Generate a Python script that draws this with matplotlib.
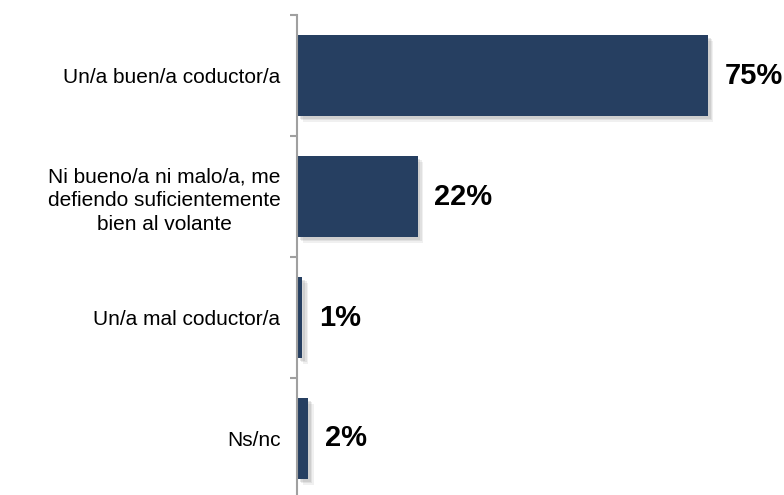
import matplotlib.pyplot as plt
import matplotlib.patheffects as pe

# Categories and percentages.
categories = ['Un/a buen/a coductor/a',
              'Ni bueno/a ni malo/a, me\ndefiendo suficientemente\nbien al volante',
              'Un/a mal coductor/a',
              'Ns/nc']
values = [75, 22, 1, 2]
value_labels = ['75%', '22%', '1%', '2%']

plt.rcParams['font.family'] = ['Liberation Sans', 'DejaVu Sans']

fig = plt.figure(figsize=(7.84, 4.95), dpi=100)
ax = fig.add_axes([297 / 784, -4 / 495, 487 / 784, 484 / 495])

positions = list(range(len(categories)))
bars = ax.barh(positions, values, height=0.67, color='#263F61')

# Soft shadow behind each bar (a few faint layers).
for bar in bars:
    bar.set_path_effects([
        pe.SimplePatchShadow(offset=(4, -4), shadow_rgbFace='#888888', alpha=0.12),
        pe.SimplePatchShadow(offset=(3, -3), shadow_rgbFace='#888888', alpha=0.15),
        pe.SimplePatchShadow(offset=(2, -2), shadow_rgbFace='#888888', alpha=0.2),
        pe.Normal()])

# Value labels at the end of each bar.
for pos, val, lab in zip(positions, values, value_labels):
    ax.annotate(lab, (val, pos), xytext=(12, 0), textcoords='offset points',
                ha='left', va='center', fontsize=21, fontweight='bold', color='black')

ax.set_xlim(0, 88.9)
ax.set_ylim(3.5, -0.5)

# Category labels, no tick marks at centers.
ax.set_yticks(positions)
ax.set_yticklabels(categories, fontsize=15, multialignment='center', linespacing=1.3)
ax.tick_params(axis='y', which='major', length=0, pad=12)

# Small tick marks at category boundaries.
ax.set_yticks([-0.5, 0.5, 1.5, 2.5, 3.5], minor=True)
ax.tick_params(axis='y', which='minor', length=5, width=1.5, color='#A0A0A0', direction='out')

ax.set_xticks([])
for side in ['top', 'right', 'bottom']:
    ax.spines[side].set_visible(False)
ax.spines['left'].set_color('#A0A0A0')
ax.spines['left'].set_linewidth(1.5)

fig.savefig('out.png', dpi=100)
